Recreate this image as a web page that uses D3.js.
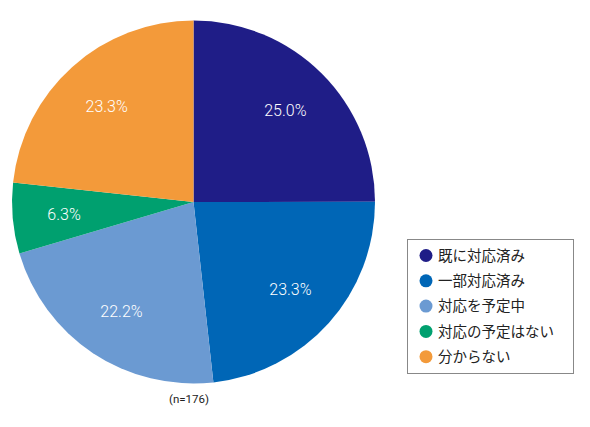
<!DOCTYPE html>
<html>
<head>
<meta charset="utf-8">
<script src="https://cdn.jsdelivr.net/npm/d3@7"></script>
<style>
  body { margin: 0; background: #fff; }
  svg { display: block; }
</style>
</head>
<body>
<svg id="chart_svg" width="590" height="427"></svg>
<script>
// categories and values
const categories = ["既に対応済み", "一部対応済み", "対応を予定中", "対応の予定はない", "分からない"];
const values = [25.0, 23.3, 22.2, 6.3, 23.3];
const colors = ["#1f1d87", "#0066b6", "#6b9ad2", "#00a06f", "#f39a3a"];
const note = "(n=176)";

const svg = d3.select("#chart_svg");

const cx = 193.5, cy = 202, radius = 181.5;

const pie = d3.pie().sort(null).value(d => d);
const arcs = pie(values);

const arc = d3.arc().innerRadius(0).outerRadius(radius);
const labelArc = d3.arc().innerRadius(130).outerRadius(130);

const g_pie = svg.append("g")
  .attr("transform", "translate(" + cx + "," + cy + ")");

g_pie.selectAll("path")
  .data(arcs)
  .enter()
  .append("path")
  .attr("d", arc)
  .attr("fill", (d, i) => colors[i]);

g_pie.selectAll(".pct")
  .data(arcs)
  .enter()
  .append("text")
  .attr("class", "pct")
  .attr("transform", d => "translate(" + labelArc.centroid(d) + ")")
  .attr("text-anchor", "middle")
  .attr("dy", "0.4em")
  .attr("fill", "#fff")
  .style("font-family", "Roboto, 'Liberation Sans', sans-serif")
  .style("font-weight", "300")
  .style("font-size", "16px")
  .text(d => d.data.toFixed(1) + "%");

// sample size note
svg.append("text")
  .attr("x", 189)
  .attr("y", 403)
  .attr("text-anchor", "middle")
  .attr("fill", "#222")
  .style("font-family", "Roboto, 'Liberation Sans', sans-serif")
  .style("font-size", "11.5px")
  .text(note);

// legend
const legend = svg.append("g").attr("class", "legend");

legend.append("rect")
  .attr("x", 407.5)
  .attr("y", 239.5)
  .attr("width", 166)
  .attr("height", 134)
  .attr("fill", "#fff")
  .attr("stroke", "#888")
  .attr("stroke-width", 1);

const legendItems = legend.selectAll(".legendItem")
  .data(categories)
  .enter()
  .append("g")
  .attr("class", "legendItem")
  .attr("transform", (d, i) => "translate(426," + (255.5 + i * 25.3) + ")");

legendItems.append("circle")
  .attr("r", 6.5)
  .attr("fill", (d, i) => colors[i]);

legendItems.append("text")
  .attr("x", 12)
  .attr("dy", "0.36em")
  .attr("fill", "#222")
  .style("font-family", "'Noto Sans CJK JP', sans-serif")
  .style("font-size", "14.5px")
  .text(d => d);
</script>
</body>
</html>
